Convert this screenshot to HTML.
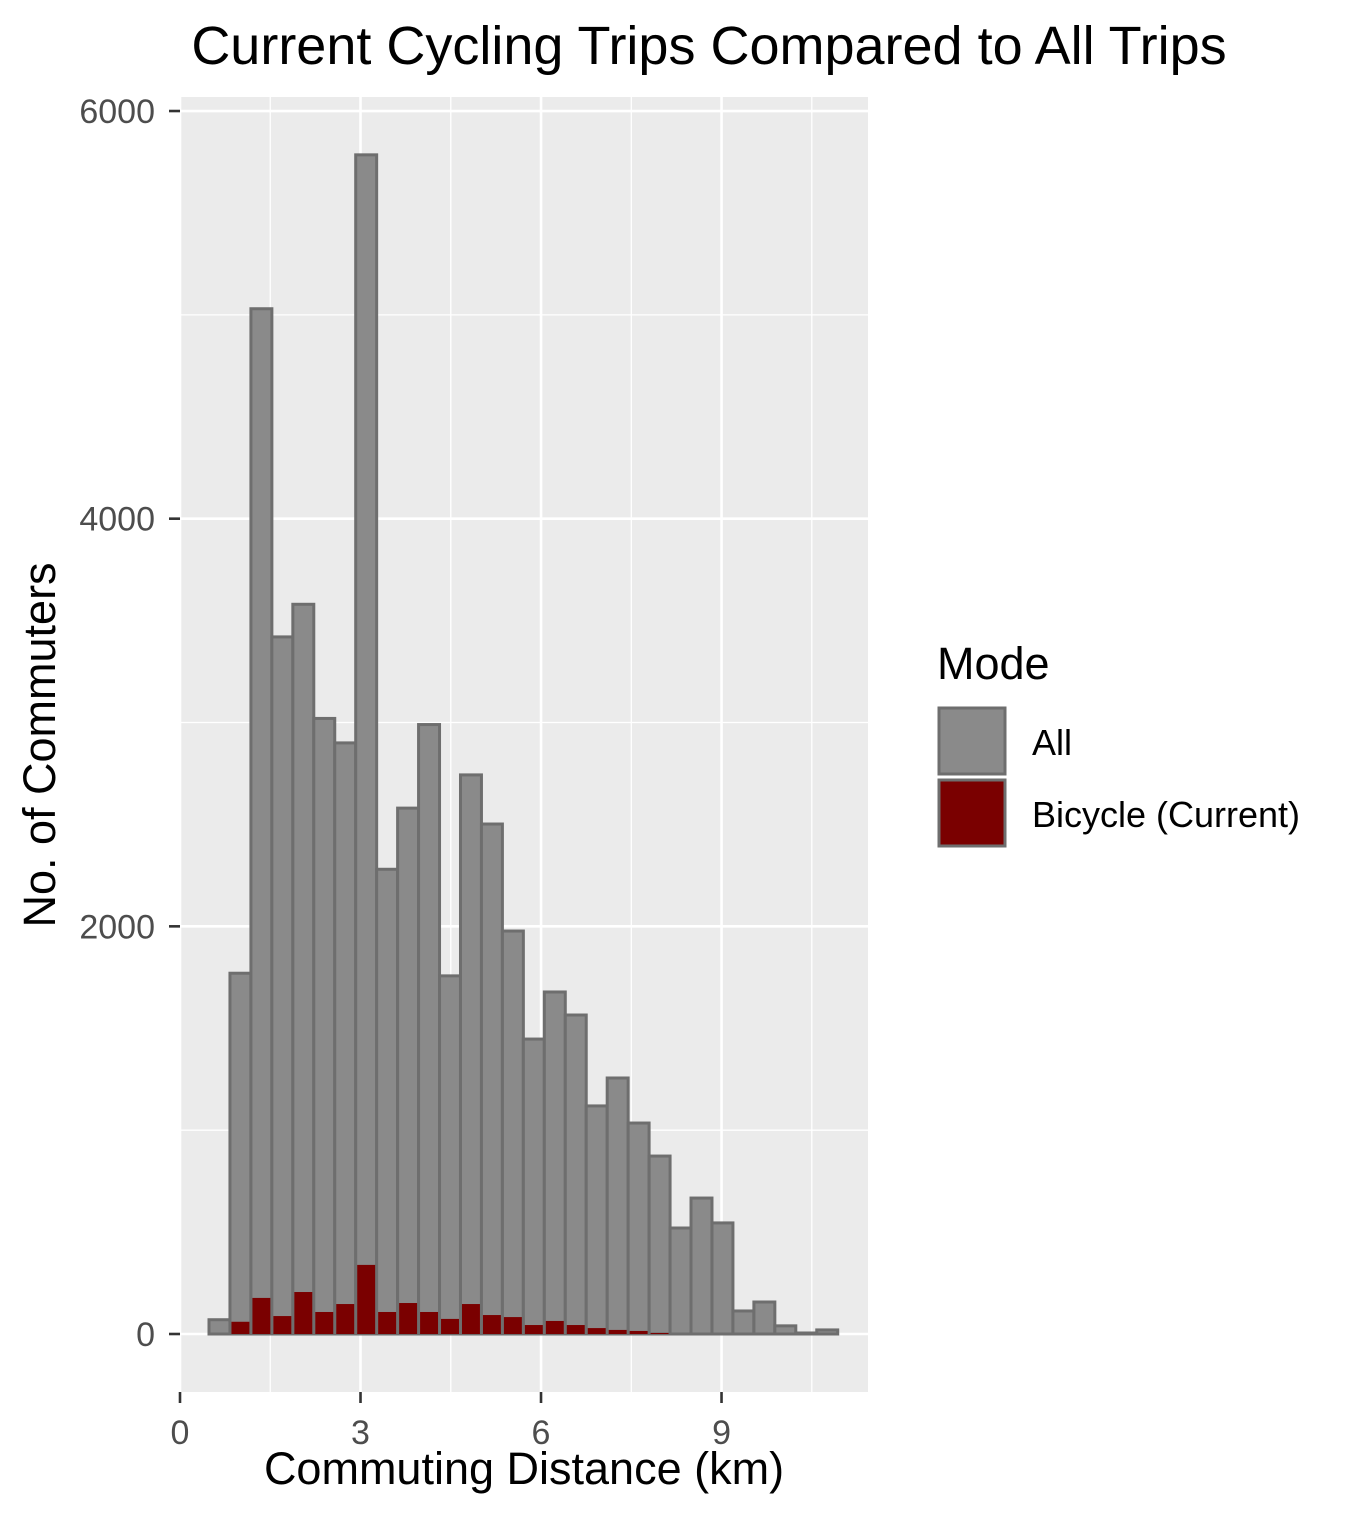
<!DOCTYPE html>
<html><head><meta charset="utf-8"><style>
body{margin:0;background:#fff;font-family:"Liberation Sans",Arial,sans-serif}
</style></head><body>
<svg id="chart" width="1350" height="1525" xmlns="http://www.w3.org/2000/svg" font-family="Liberation Sans, Arial, sans-serif">
<rect width="1350" height="1525" fill="#fff"/>
<rect x="180" y="97" width="688" height="1295" fill="#ebebeb"/>
<g id="grid"></g>
<g id="bars"></g>
<g id="axes"></g>
<text x="709" y="64" font-size="54" text-anchor="middle" fill="#000">Current Cycling Trips Compared to All Trips</text>
<text x="524" y="1484" font-size="45" text-anchor="middle" fill="#000">Commuting Distance (km)</text>
<text transform="translate(55,745) rotate(-90)" font-size="45" text-anchor="middle" fill="#000">No. of Commuters</text>
<g>
<text x="937" y="679" font-size="45" fill="#000">Mode</text>
<rect x="939" y="708" width="66" height="66" fill="#8a8a8a" stroke="#6e6e6e" stroke-width="3"/>
<text x="1032" y="755" font-size="36" fill="#000">All</text>
<rect x="939" y="780" width="66" height="66" fill="#7a0000" stroke="#6e6e6e" stroke-width="3"/>
<text x="1032" y="827" font-size="36" fill="#000">Bicycle (Current)</text>
</g>
</svg>
<script>
const allCounts=[70,1770,5030,3420,3580,3020,2900,5785,2280,2580,2990,1757,2743,2502,1977,1447,1678,1565,1119,1256,1035,873,520,667,545,113,157,40,5,20];
const bikeCounts=[0,60,177,88,206,108,147,339,108,152,108,74,147,93,83,44,64,44,29,20,15,5,0,0,0,0,0,0,0,0];
const binStart=0.482, binWidth=0.3483;
const xTicks=[0,3,6,9];
const yTicks=[0,2000,4000,6000];
const NS="http://www.w3.org/2000/svg";
const X=v=>180+v*60.17, Y=v=>1334-v*0.20383;
function mk(t,a,p){const e=document.createElementNS(NS,t);for(const k in a)e.setAttribute(k,a[k]);p.appendChild(e);return e;}
const grid=document.getElementById('grid'),bars=document.getElementById('bars'),axes=document.getElementById('axes');
[1000,3000,5000].forEach(v=>{const l=mk('line',{x1:180,x2:868,y1:Y(v),y2:Y(v),stroke:'#fff','stroke-width':1.3},grid);

});
[1.5,4.5,7.5,10.5].forEach(v=>{const l=mk('line',{x1:X(v),x2:X(v),y1:97,y2:1392,stroke:'#fff','stroke-width':1.3},grid);

});
yTicks.forEach(v=>{const l=mk('line',{x1:180,x2:868,y1:Y(v),y2:Y(v),stroke:'#fff','stroke-width':2.6},grid);


const t=mk('line',{x1:169,x2:180,y1:Y(v),y2:Y(v),stroke:'#333','stroke-width':2.6},axes);


const tx=mk('text',{x:155,y:Y(v)+12,'font-size':34,'text-anchor':'end',fill:'#4d4d4d'},axes);tx.textContent=v;

});
xTicks.forEach(v=>{const l=mk('line',{x1:X(v),x2:X(v),y1:97,y2:1392,stroke:'#fff','stroke-width':2.6},grid);


const t=mk('line',{x1:X(v),x2:X(v),y1:1392,y2:1403,stroke:'#333','stroke-width':2.6},axes);


const tx=mk('text',{x:X(v),y:1444,'font-size':34,'text-anchor':'middle',fill:'#4d4d4d'},axes);tx.textContent=v;

});
allCounts.forEach((v,i)=>{const x0=X(binStart+i*binWidth),x1=X(binStart+(i+1)*binWidth);
const r=mk('rect',{x:x0,y:Y(v),width:x1-x0,height:Y(0)-Y(v),fill:'#8a8a8a',stroke:'#6e6e6e','stroke-width':3},bars);

});
bikeCounts.forEach((v,i)=>{if(v<=0)return;const x0=X(binStart+i*binWidth),x1=X(binStart+(i+1)*binWidth);
const r=mk('rect',{x:x0+1.5,y:Y(v),width:x1-x0-3,height:Y(0)-Y(v),fill:'#7a0000'},bars);

});
</script>
</body></html>
